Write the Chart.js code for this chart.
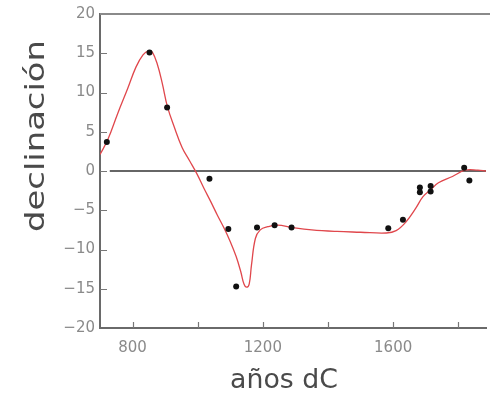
<!DOCTYPE html>
<html>
<head>
<meta charset="utf-8">
<script src="https://cdn.jsdelivr.net/npm/chart.js@4/dist/chart.umd.min.js"></script>
<style>
html,body{margin:0;padding:0;background:#fff;overflow:hidden;}
#wrap{width:490px;height:398px;}
</style>
</head>
<body>
<div id="wrap"><canvas id="c" width="490" height="398"></canvas></div>
<script>
// observed data points (year AD, declination in degrees)
const obsYears = [721, 852, 906, 1036, 1094, 1118, 1182, 1236, 1288, 1585, 1630, 1682, 1682, 1715, 1715, 1818, 1834];
const obsDecl  = [3.7, 15.1, 8.1, -1.0, -7.4, -14.7, -7.2, -6.9, -7.2, -7.3, -6.2, -2.1, -2.7, -1.9, -2.6, 0.4, -1.2];

// fitted curve
const curveYears = [700, 724, 755, 785, 810, 832, 850, 861, 876, 891, 907, 928, 952, 975, 998, 1019, 1040, 1060, 1080, 1100, 1118, 1132, 1142, 1150, 1158, 1165, 1177, 1192, 1215, 1245, 1290, 1350, 1427, 1500, 1579, 1609, 1639, 1670, 1691, 1715, 1739, 1782, 1821, 1860, 1885];
const curveDecl  = [2.1, 4.0, 7.4, 10.5, 13.2, 14.8, 15.3, 15.1, 13.6, 11.2, 8.2, 5.6, 3.0, 1.3, -0.4, -2.2, -3.9, -5.6, -7.2, -9.0, -10.9, -12.8, -14.4, -14.8, -14.4, -12.0, -8.6, -7.5, -7.1, -6.9, -7.2, -7.5, -7.7, -7.8, -7.9, -7.6, -6.5, -4.7, -3.3, -2.4, -1.5, -0.7, 0.1, 0.1, 0.0];

// reference zero line
const refYears = [730, 1885];
const refDecl  = [0, 0];

// axis ticks
const xTickValues = [800, 1000, 1200, 1400, 1600, 1800];
const xTickLabels = ['800', '', '1200', '', '1600', ''];
const yTickValues = [-20, -15, -10, -5, 0, 5, 10, 15, 20];
const yTickLabels = ['\u221220', '\u221215', '\u221210', '\u22125', '0', '5', '10', '15', '20'];

const xTitle = 'años dC';
const yTitle = 'declinación';

const toPts = (xs, ys) => xs.map((x, i) => ({x: x, y: ys[i]}));

const framePlugin = {
  id: 'frame',
  afterDraw(chart) {
    const {ctx, chartArea: a, scales: {x, y}} = chart;
    ctx.save();
    // top border
    ctx.strokeStyle = '#8a8a8a';
    ctx.lineWidth = 2;
    ctx.beginPath();
    ctx.moveTo(a.left, a.top);
    ctx.lineTo(chart.width, a.top);
    ctx.stroke();
    // inward ticks
    ctx.strokeStyle = '#777';
    ctx.lineWidth = 1.2;
    ctx.beginPath();
    xTickValues.forEach(v => {
      const px = Math.round(x.getPixelForValue(v)) + 0.5;
      ctx.moveTo(px, a.bottom);
      ctx.lineTo(px, a.bottom - 6);
    });
    yTickValues.forEach(v => {
      if (v === 20 || v === -20) return;
      const py = Math.round(y.getPixelForValue(v)) + 0.5;
      ctx.moveTo(a.left, py);
      ctx.lineTo(a.left + 7, py);
    });
    ctx.stroke();
    // titles
    ctx.fillStyle = '#4a4a4a';
    ctx.textAlign = 'center';
    ctx.textBaseline = 'middle';
    ctx.font = '27px "DejaVu Sans"';
    let w = ctx.measureText(yTitle).width;
    ctx.save();
    ctx.translate(37, 136);
    ctx.rotate(-Math.PI / 2);
    ctx.scale(192 / w, 1);
    ctx.fillText(yTitle, 0, 0);
    ctx.restore();
    w = ctx.measureText(xTitle).width;
    ctx.save();
    ctx.translate(284, 381);
    ctx.scale(108 / w, 1);
    ctx.fillText(xTitle, 0, 0);
    ctx.restore();
    ctx.restore();
  }
};

new Chart(document.getElementById('c'), {
  type: 'scatter',
  data: {
    datasets: [
      {
        data: toPts(refYears, refDecl),
        showLine: true,
        borderColor: '#333',
        borderWidth: 1.6,
        pointRadius: 0,
        order: 3
      },
      {
        data: toPts(curveYears, curveDecl),
        showLine: true,
        borderColor: '#e0474c',
        borderWidth: 1.3,
        pointRadius: 0,
        tension: 0.4,
        order: 2
      },
      {
        data: toPts(obsYears, obsDecl),
        showLine: false,
        pointRadius: 3,
        pointBackgroundColor: '#111',
        pointBorderColor: '#111',
        pointBorderWidth: 0,
        order: 1
      }
    ]
  },
  options: {
    responsive: false,
    animation: false,
    events: [],
    layout: {padding: {top: 14, left: 0, right: -3, bottom: 0}},
    plugins: {legend: {display: false}, tooltip: {enabled: false}},
    scales: {
      x: {
        type: 'linear',
        min: 700,
        max: 1885,
        afterBuildTicks: s => { s.ticks = xTickValues.map(v => ({value: v})); },
        afterFit: s => { s.height = 70; },
        grid: {drawOnChartArea: false, drawTicks: false},
        border: {display: true, color: '#6a6a6a', width: 2},
        ticks: {
          callback: (v, i) => xTickLabels[i],
          color: '#8a8a8a',
          font: {family: 'DejaVu Sans', size: 15},
          padding: 11,
          maxRotation: 0,
          autoSkip: false
        }
      },
      y: {
        type: 'linear',
        min: -20,
        max: 20,
        afterBuildTicks: s => { s.ticks = yTickValues.map(v => ({value: v})); },
        afterFit: s => { s.width = 100; },
        grid: {drawOnChartArea: false, drawTicks: false},
        border: {display: true, color: '#6a6a6a', width: 2},
        ticks: {
          callback: (v, i) => yTickLabels[i],
          color: '#8a8a8a',
          font: {family: 'DejaVu Sans', size: 15},
          padding: 5,
          autoSkip: false
        }
      }
    }
  },
  plugins: [framePlugin]
});
</script>
</body>
</html>
